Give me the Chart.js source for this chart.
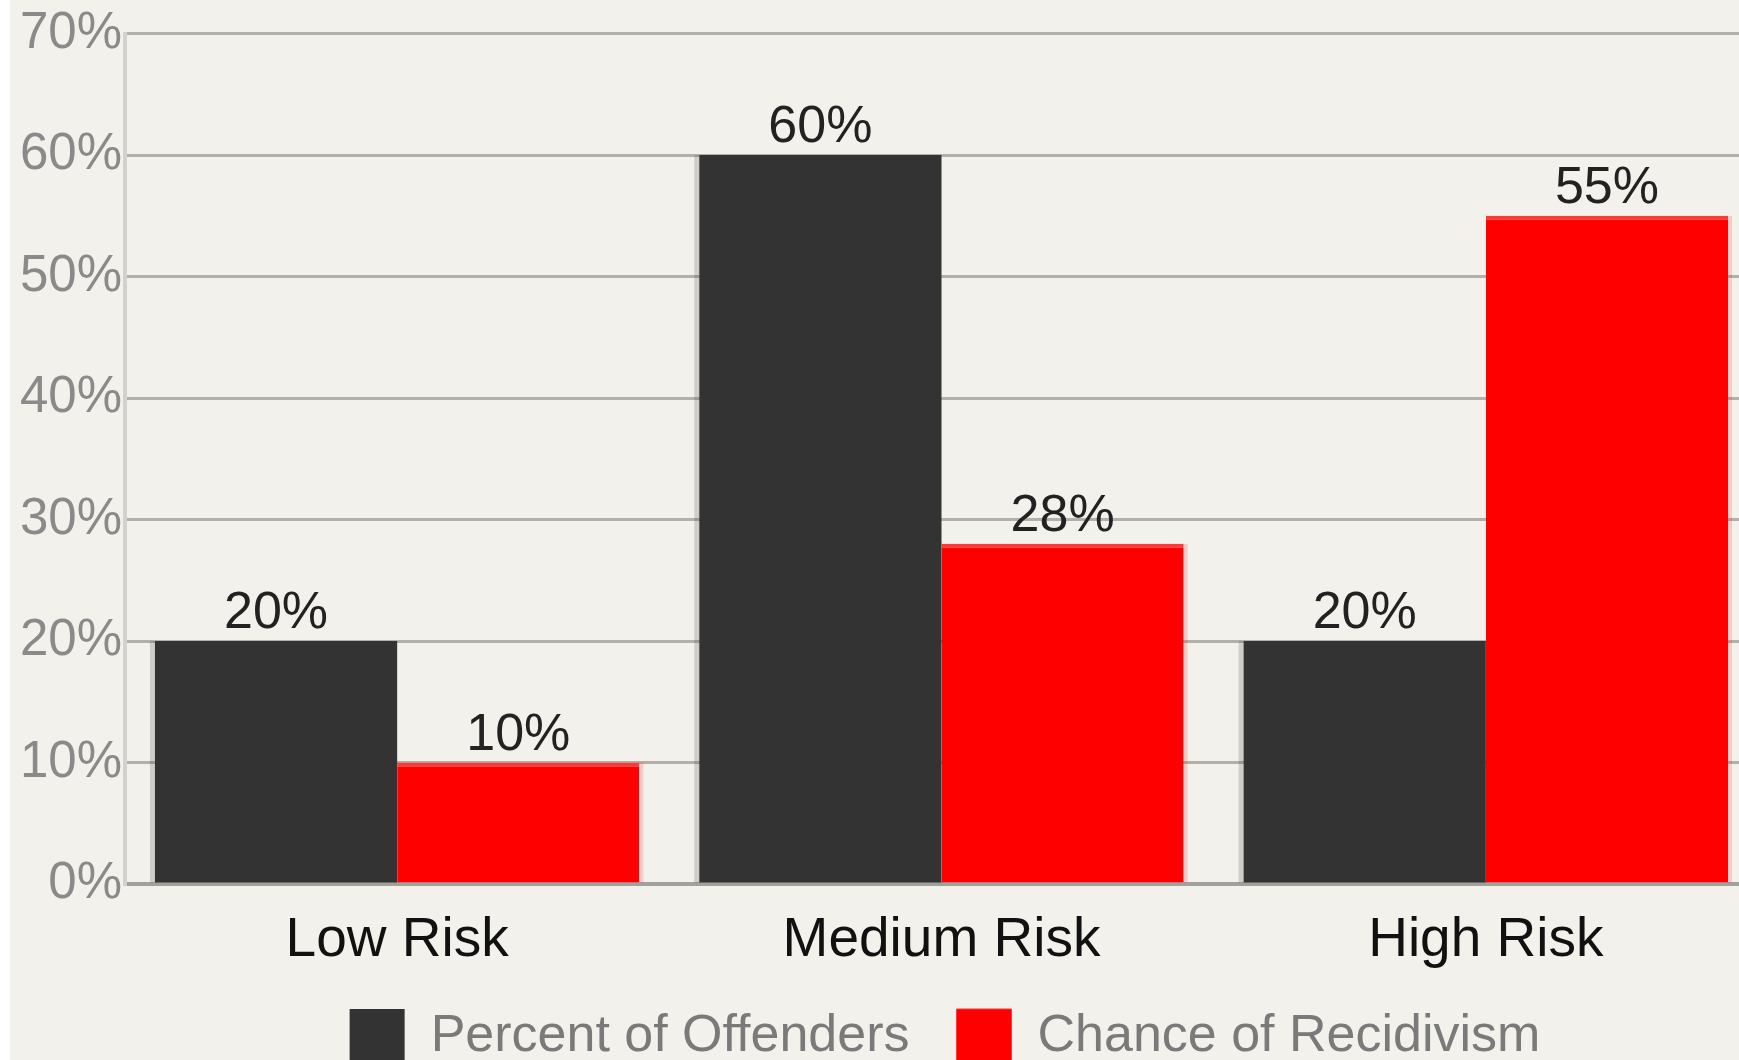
<!DOCTYPE html>
<html>
<head>
<meta charset="utf-8">
<script src="https://cdn.jsdelivr.net/npm/chart.js@4.4.1/dist/chart.umd.min.js"></script>
<style>
  html, body { margin: 0; padding: 0; background: #ffffff; overflow: hidden; width: 1739px; height: 1060px; }
  #wrap { position: absolute; left: 10px; top: 0; width: 1748px; height: 1074px; background: #f3f1eb; }
  canvas { display: block; }
</style>
</head>
<body>
<div id="wrap"><canvas id="c" width="1748" height="1074"></canvas></div>
<script>
const categories = ["Low Risk", "Medium Risk", "High Risk"];
const seriesNames = ["Percent of Offenders", "Chance of Recidivism"];
const percentOfOffenders = [20, 60, 20];
const chanceOfRecidivism = [10, 28, 55];
const yTickValues = [0, 10, 20, 30, 40, 50, 60, 70];

const FONT = "'Liberation Sans', Arial, Helvetica, sans-serif";

// soft edge strips beside bars (as seen in the reference image)
const barEdges = {
  id: 'barEdges',
  beforeDatasetsDraw(chart) {
    const ctx = chart.ctx;
    ctx.save();
    const m0 = chart.getDatasetMeta(0);
    ctx.fillStyle = 'rgba(51,51,51,0.18)';
    m0.data.forEach(bar => {
      const left = bar.x - bar.width / 2;
      ctx.fillRect(left - 5, bar.y, 5, bar.base - bar.y);
    });
    const m1 = chart.getDatasetMeta(1);
    ctx.fillStyle = 'rgba(255,0,0,0.15)';
    m1.data.forEach(bar => {
      const right = bar.x + bar.width / 2;
      ctx.fillRect(right, bar.y, 4, bar.base - bar.y);
    });
    ctx.restore();
  }
};

const valueLabels = {
  id: 'valueLabels',
  afterDatasetsDraw(chart) {
    const ctx = chart.ctx;
    ctx.save();
    ctx.font = "52px " + FONT;
    ctx.fillStyle = "#222222";
    ctx.textAlign = "center";
    ctx.textBaseline = "bottom";
    chart.data.datasets.forEach((ds, di) => {
      const meta = chart.getDatasetMeta(di);
      meta.data.forEach((bar, i) => {
        ctx.fillText(ds.data[i] + "%", bar.x, bar.y - 1);
      });
    });
    ctx.restore();
  }
};

const layoutTweaks = {
  id: 'layoutTweaks',
  afterLayout(chart) {
    if (chart.legend) {
      chart.legend.left += 61;
      chart.legend.right += 61;
    }
    const x = chart.scales.x;
    if (x) {
      // let the category labels' descenders extend below the fitted axis box
      x.bottom += 40;
      x.height += 40;
    }
  }
};

new Chart(document.getElementById('c'), {
  type: 'bar',
  data: {
    labels: categories,
    datasets: [
      { label: seriesNames[0], data: percentOfOffenders, backgroundColor: '#333333', borderWidth: 0 },
      { label: seriesNames[1], data: chanceOfRecidivism, backgroundColor: '#ff0000',
        borderColor: '#ff3838', borderWidth: { top: 4, left: 0, right: 0, bottom: 0 } }
    ]
  },
  options: {
    responsive: false,
    animation: false,
    events: [],
    layout: { padding: { top: 33, left: 0, right: 0, bottom: 0 } },
    datasets: { bar: { categoryPercentage: 0.89, barPercentage: 1.0 } },
    scales: {
      x: {
        grid: { display: false, drawTicks: false },
        border: { display: true, color: '#a3a19c', width: 4 },
        ticks: { color: '#111111', font: { family: FONT, size: 55 }, padding: 24 },
        afterFit(scale) { scale.height = 78; }
      },
      y: {
        min: 0, max: 70,
        afterBuildTicks(scale) { scale.ticks = yTickValues.map(v => ({ value: v })); },
        grid: { color: '#b2b0a9', lineWidth: 3, drawTicks: false },
        border: { display: true, color: '#d3d1cb', width: 4 },
        ticks: { color: '#8a8a8a', font: { family: FONT, size: 51 }, padding: 3, callback: v => v + '%' },
        afterFit(scale) { scale.width = 115; }
      }
    },
    plugins: {
      legend: {
        position: 'bottom',
        labels: {
          color: '#7a7a7a',
          font: { family: FONT, size: 52 },
          boxWidth: 55,
          boxHeight: 55,
          padding: 47
        }
      },
      tooltip: { enabled: false }
    }
  },
  plugins: [barEdges, valueLabels, layoutTweaks]
});
</script>
</body>
</html>
